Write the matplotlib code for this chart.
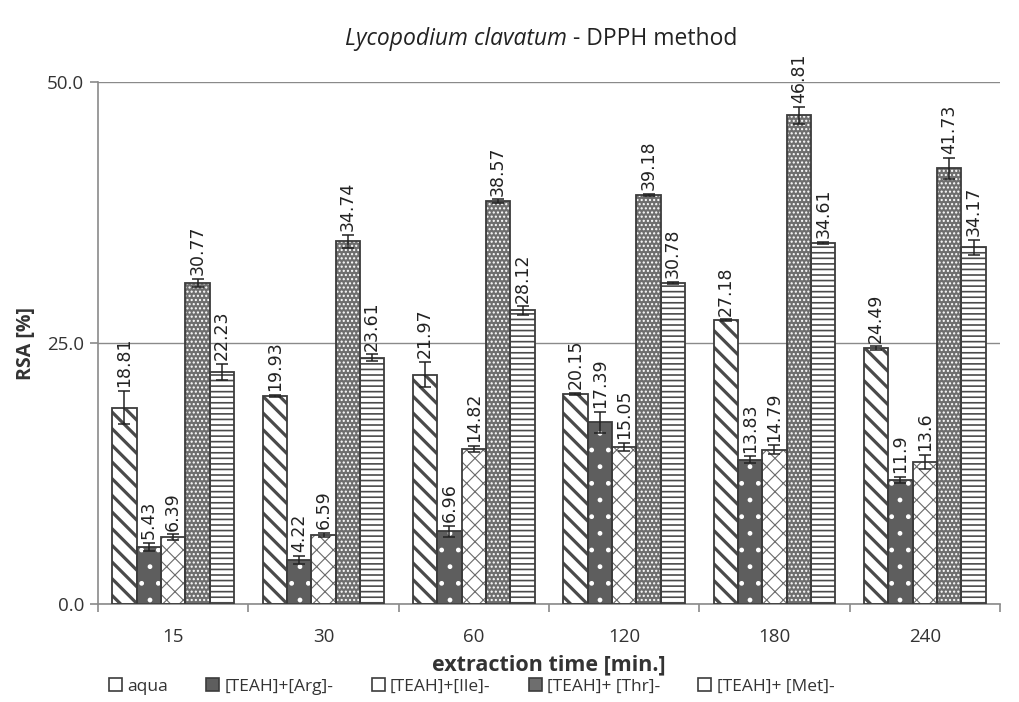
import matplotlib
matplotlib.use("Agg")
import matplotlib.pyplot as plt
from matplotlib.patches import Rectangle
import numpy as np

categories = ["15", "30", "60", "120", "180", "240"]
series_names = ["aqua", "[TEAH]+[Arg]-", "[TEAH]+[Ile]-", "[TEAH]+ [Thr]-", "[TEAH]+ [Met]-"]
aqua = [18.81, 19.93, 21.97, 20.15, 27.18, 24.49]
arg = [5.43, 4.22, 6.96, 17.39, 13.83, 11.9]
ile = [6.39, 6.59, 14.82, 15.05, 14.79, 13.6]
thr = [30.77, 34.74, 38.57, 39.18, 46.81, 41.73]
met = [22.23, 23.61, 28.12, 30.78, 34.61, 34.17]
aqua_err = [1.6, 0.1, 1.2, 0.1, 0.1, 0.2]
arg_err = [0.4, 0.4, 0.5, 1.0, 0.3, 0.3]
ile_err = [0.3, 0.2, 0.3, 0.4, 0.4, 0.7]
thr_err = [0.4, 0.6, 0.2, 0.1, 0.8, 1.0]
met_err = [0.8, 0.3, 0.4, 0.1, 0.1, 0.7]

values = [aqua, arg, ile, thr, met]
errors = [aqua_err, arg_err, ile_err, thr_err, met_err]

# style: (facecolor, hatch, hatchcolor, hatch linewidth)
styles = [
    ("white", "\\\\", "#4a4a4a", 2.3),
    ("#5e5e5e", ".", "white", 1.0),
    ("white", "xx", "#6a6a6a", 0.8),
    ("#6e6e6e", "....", "white", 1.0),
    ("white", "---", "#4a4a4a", 1.2),
]
legend_fc = ["white", "#5e5e5e", "white", "#6e6e6e", "white"]

text_col = "#333333"
narrow = ["Open Sans", "DejaVu Sans"]
fig = plt.figure(figsize=(10.19, 7.02), dpi=100)
ax = fig.add_axes([98/1019, 1-604/702, (1000-98)/1019, (604-82)/702])

x = np.arange(len(categories))
w = 0.162
offsets = (np.arange(5) - 2) * w
for i in range(5):
    fc, hatch, hc, hlw = styles[i]
    plt.rcParams["hatch.linewidth"] = hlw
    b = ax.bar(x + offsets[i], values[i], w, color=fc, edgecolor=hc, hatch=hatch,
               linewidth=0, zorder=2)
    for p in b:
        try:
            p.set_hatch_linewidth(hlw)
        except Exception:
            pass
    ax.bar(x + offsets[i], values[i], w, fill=False, edgecolor="#3c3c3c", linewidth=1.3, zorder=3)
    ax.errorbar(x + offsets[i], values[i], yerr=errors[i], fmt="none", ecolor="#222222",
                elinewidth=1.1, capsize=4.5, capthick=1.1, zorder=4)
    for xi, v, e in zip(x + offsets[i], values[i], errors[i]):
        ax.text(xi, v + e + 0.35, f"{v:g}", rotation=90, ha="center", va="bottom",
                fontsize=12.5, color="#222222", family="DejaVu Sans", zorder=5)

ax.set_xlim(-0.5, 5.5)
ax.set_ylim(0, 50)
ax.set_yticks([0, 25, 50])
ax.set_yticklabels(["0.0", "25.0", "50.0"])
ax.yaxis.grid(True, color="#8a8a8a", linewidth=1.0, zorder=0)
ax.set_axisbelow(True)
for s in ["top", "right"]:
    ax.spines[s].set_visible(False)
for s in ["left", "bottom"]:
    ax.spines[s].set_color("#8a8a8a")
    ax.spines[s].set_linewidth(1.2)

ax.set_xticks(x)
ax.set_xticklabels(categories)
ax.tick_params(axis="x", length=0, pad=17, labelsize=13.5, labelcolor=text_col)
ax.set_xticks(np.arange(-0.5, 6.0, 1.0), minor=True)
ax.tick_params(axis="x", which="minor", length=6, color="#8a8a8a", width=1.2)
ax.tick_params(axis="y", length=6, color="#8a8a8a", width=1.2, labelsize=13.5, labelcolor=text_col, pad=4)

for lab in ax.get_xticklabels() + ax.get_yticklabels():
    lab.set_family(narrow)

ax.set_xlabel("extraction time [min.]", fontsize=15.5, fontweight="bold", color=text_col,
              family=narrow, labelpad=6)
ax.set_ylabel("RSA [%]", fontsize=14, fontweight="bold", color=text_col,
              family=narrow, labelpad=8)

fig.text(0.556, 0.945, "Lycopodium clavatum", ha="right", va="center", fontsize=16.5, style="italic",
         color="#222222", family=narrow)
fig.text(0.556, 0.945, " - DPPH method", ha="left", va="center", fontsize=16.5,
         color="#222222", family=narrow)

handles = [Rectangle((0, 0), 1, 1, facecolor=legend_fc[i], edgecolor="#3c3c3c", linewidth=1.2)
           for i in range(5)]
leg = fig.legend(handles, series_names, loc="lower center", ncol=5, frameon=False,
                 bbox_to_anchor=(0.463, -0.012), handlelength=0.75, handleheight=0.75,
                 handletextpad=0.3, columnspacing=2.2,
                 prop={"family": narrow, "size": 12.5})
for t in leg.get_texts():
    t.set_color(text_col)

fig.savefig("out.png", dpi=100)
